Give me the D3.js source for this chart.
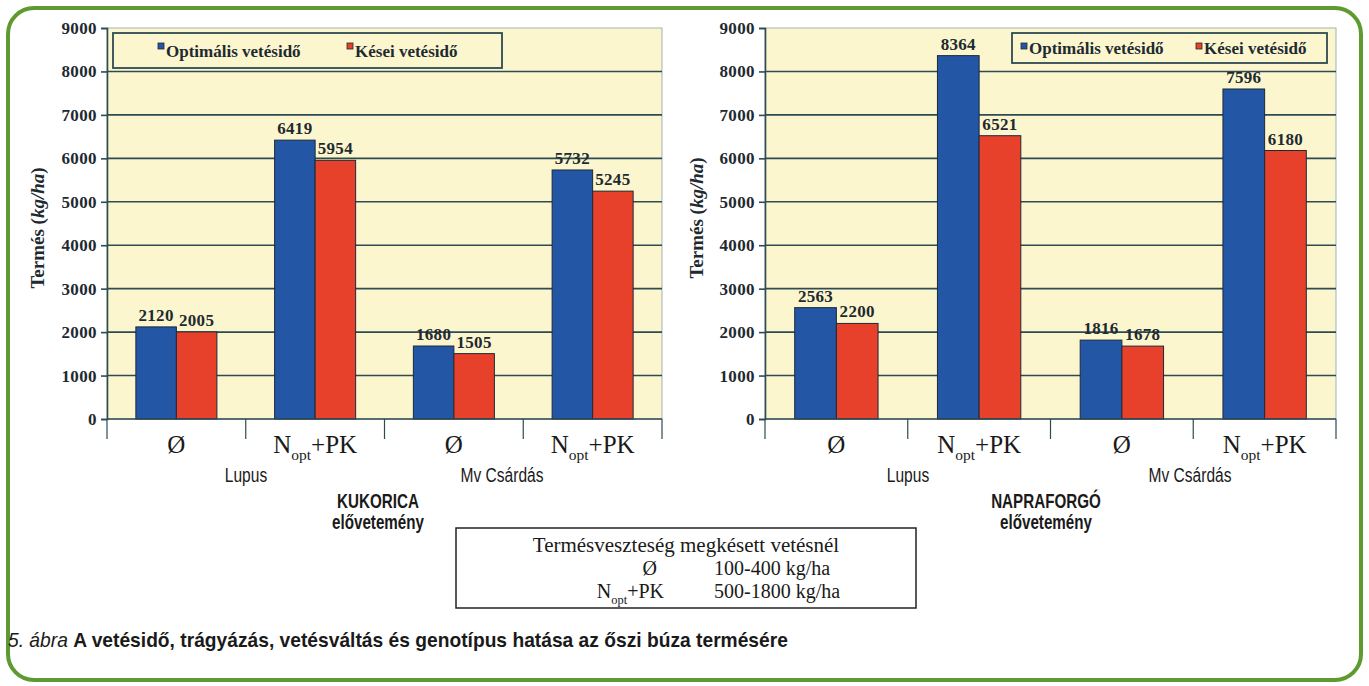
<!DOCTYPE html>
<html><head><meta charset="utf-8">
<script src="https://cdnjs.cloudflare.com/ajax/libs/d3/7.8.5/d3.min.js"></script>
<style>
html,body{margin:0;padding:0;background:#fff;}
svg{display:block;}
</style></head>
<body>
<svg id="c" width="1369" height="686"></svg>
<script>
// ---- data ----
const categories = ["Ø", "Nopt+PK", "Ø", "Nopt+PK"];
const groupLabels = ["Lupus", "Mv Csárdás"];
const seriesNames = ["Optimális vetésidő", "Kései vetésidő"];
const kukoricaOptimal = [2120, 6419, 1680, 5732];
const kukoricaLate = [2005, 5954, 1505, 5245];
const napraforgoOptimal = [2563, 8364, 1816, 7596];
const napraforgoLate = [2200, 6521, 1678, 6180];
const yTicks = [0, 1000, 2000, 3000, 4000, 5000, 6000, 7000, 8000, 9000];
const precropNames = ["KUKORICA", "NAPRAFORGÓ"];
const lossRows = [["Ø", "100-400 kg/ha"], ["Nopt+PK", "500-1800 kg/ha"]];

const svg = d3.select("#c");
const BLUE = "#2456a6", RED = "#e8412b", GRID = "#2e4a52", BG = "#fcf6cf";
const serif = "'Liberation Serif', 'DejaVu Serif', serif";
const sans = "'Liberation Sans', Arimo, sans-serif";

// green frame
svg.append("rect").attr("x", 8).attr("y", 8).attr("width", 1353).attr("height", 672)
  .attr("rx", 26).attr("ry", 26).attr("fill", "none").attr("stroke", "#5e9a2f").attr("stroke-width", 4);

function catLabel(sel, txt, size) {
  if (txt === "Nopt+PK") {
    sel.append("tspan").text("N");
    sel.append("tspan").text("opt").attr("font-size", size * 0.62).attr("dy", size * 0.28);
    sel.append("tspan").text("+PK").attr("dy", -size * 0.28);
  } else sel.text(txt);
}

// condensed text: sans scaled horizontally
function narrowText(parent, x, y, txt, size, bold, sx) {
  return parent.append("text").attr("transform", `translate(${x},${y}) scale(${sx || 0.78},1)`)
    .attr("text-anchor", "middle").attr("font-family", sans).attr("font-size", size)
    .attr("font-weight", bold ? "bold" : "normal").attr("fill", "#1a1a1a").text(txt);
}

function drawChart(cfg) {
  const g = svg.append("g");
  const x = d3.scaleBand().domain(d3.range(categories.length)).range([cfg.x0, cfg.x1]).paddingInner(0).paddingOuter(0);
  const y = d3.scaleLinear().domain([0, 9000]).range([cfg.yb, cfg.yt]);
  const bw = x.bandwidth() * 0.292;

  g.append("rect").attr("x", cfg.x0).attr("y", cfg.yt).attr("width", cfg.x1 - cfg.x0).attr("height", cfg.yb - cfg.yt)
    .attr("fill", BG).attr("stroke", "#9fb3b8").attr("stroke-width", 1);

  // gridlines
  g.selectAll(".grid").data(yTicks.filter(t => t > 0 && t < 9000)).join("line")
    .attr("x1", cfg.x0).attr("x2", cfg.x1).attr("y1", d => y(d)).attr("y2", d => y(d))
    .attr("stroke", GRID).attr("stroke-width", 1.6);

  // y axis
  const yAxis = d3.axisLeft(y).tickValues(yTicks).tickSize(6).tickPadding(4).tickFormat(d3.format("d"));
  const ya = g.append("g").attr("transform", `translate(${cfg.x0},0)`).call(yAxis);
  ya.select(".domain").attr("stroke", GRID).attr("stroke-width", 1.6);
  ya.selectAll(".tick line").attr("stroke", GRID).attr("stroke-width", 1.6);
  ya.selectAll(".tick text").attr("font-family", serif).attr("font-weight", "bold").attr("font-size", 17)
    .attr("fill", "#1e2a30").attr("letter-spacing", 0.4);

  // legend box
  g.append("rect").attr("x", cfg.legX).attr("y", cfg.legY).attr("width", cfg.legW).attr("height", cfg.legH)
    .attr("fill", BG).attr("stroke", "#2e4a52").attr("stroke-width", 1.8);

  // bars
  const series = [cfg.opt, cfg.late];
  const colors = [BLUE, RED];
  series.forEach((vals, si) => {
    const bx = i => x(i) + x.bandwidth() / 2 - bw + si * bw;
    g.selectAll(".bar" + si).data(vals).join("rect")
      .attr("x", (d, i) => bx(i)).attr("y", d => y(d)).attr("width", bw).attr("height", d => y(0) - y(d))
      .attr("fill", colors[si]).attr("stroke", "#1c2a38").attr("stroke-width", 1);
    g.selectAll(".val" + si).data(vals).join("text")
      .attr("x", (d, i) => bx(i) + bw / 2).attr("y", d => y(d) - 6)
      .attr("text-anchor", "middle").attr("font-family", serif).attr("font-weight", "bold")
      .attr("font-size", 17).attr("letter-spacing", 0.3).attr("fill", "#1e2a30").text(d => d);
  });

  // x axis line and dividers
  g.append("line").attr("x1", cfg.x0).attr("x2", cfg.x1).attr("y1", y(0)).attr("y2", y(0))
    .attr("stroke", GRID).attr("stroke-width", 1.6);
  const divs = d3.range(categories.length + 1).map(i => i < categories.length ? x(i) : cfg.x1);
  g.selectAll(".div").data(divs).join("line")
    .attr("x1", d => d).attr("x2", d => d).attr("y1", y(0)).attr("y2", y(0) + 20)
    .attr("stroke", GRID).attr("stroke-width", 1.2);

  // category labels
  categories.forEach((c, i) => {
    const t = g.append("text").attr("x", x(i) + x.bandwidth() / 2).attr("y", y(0) + 34)
      .attr("text-anchor", "middle").attr("font-family", serif).attr("font-size", 25).attr("fill", "#1a1a1a");
    catLabel(t, c, 25);
  });
  // group labels
  groupLabels.forEach((gl, i) => narrowText(g, cfg.groupX[i], y(0) + 63, gl, 21, false, 0.74));
  // precrop
  narrowText(g, cfg.preX, y(0) + 89, cfg.pre, 20, true, 0.76);
  narrowText(g, cfg.preX, y(0) + 110, "elővetemény", 20, true, 0.76);

  // y title
  const yt = g.append("text").attr("transform", `translate(${cfg.titleX},${cfg.titleY}) rotate(-90)`)
    .attr("text-anchor", "middle").attr("font-family", serif).attr("font-weight", "bold").attr("font-size", 19).attr("fill", "#1e2a30");
  yt.append("tspan").text("Termés (");
  yt.append("tspan").text("kg/ha").attr("font-style", "italic");
  yt.append("tspan").text(")");

  // legend items
  seriesNames.forEach((s, i) => {
    const lx = cfg.legItems[i];
    g.append("rect").attr("x", lx).attr("y", cfg.legY + 10).attr("width", 6).attr("height", 6)
      .attr("fill", colors[i]).attr("stroke", "#1c2a38").attr("stroke-width", 0.8);
    g.append("text").attr("x", lx + 8).attr("y", cfg.legY + cfg.legTextDy).attr("font-family", serif).attr("font-weight", "bold")
      .attr("font-size", 17).attr("fill", "#1e2a30").text(s);
  });
}

drawChart({ x0: 107, x1: 662, yt: 28, yb: 419, opt: kukoricaOptimal, late: kukoricaLate,
  legX: 113, legY: 33, legW: 389, legH: 35, legItems: [158, 347], legTextDy: 24,
  groupX: [246, 502], preX: 378, pre: precropNames[0], titleX: 44, titleY: 228 });
drawChart({ x0: 765, x1: 1336, yt: 28, yb: 419, opt: napraforgoOptimal, late: napraforgoLate,
  legX: 1012, legY: 33, legW: 315, legH: 30, legItems: [1021, 1196], legTextDy: 21,
  groupX: [908, 1190], preX: 1046, pre: precropNames[1], titleX: 703, titleY: 218 });

// loss box
const box = svg.append("g");
box.append("rect").attr("x", 456).attr("y", 528).attr("width", 460).attr("height", 80)
  .attr("fill", "#fff").attr("stroke", "#222").attr("stroke-width", 1.5);
box.append("text").attr("x", 686).attr("y", 552).attr("text-anchor", "middle").attr("font-family", serif)
  .attr("font-size", 21).attr("fill", "#1a1a1a").text("Termésveszteség megkésett vetésnél");
lossRows.forEach((r, i) => {
  const ry = 575 + i * 23;
  const t = box.append("text").attr("x", i === 0 ? 657 : 664).attr("y", ry).attr("text-anchor", "end")
    .attr("font-family", serif).attr("font-size", 20).attr("fill", "#1a1a1a");
  catLabel(t, r[0], 20);
  box.append("text").attr("x", 714).attr("y", ry).attr("font-family", serif)
    .attr("font-size", 20).attr("fill", "#1a1a1a").text(r[1]);
});

// figure caption (condensed)
const cap = svg.append("text").attr("font-family", sans).attr("font-size", 20).attr("fill", "#1a1a1a");
cap.append("tspan").text("5. ábra ").attr("font-style", "italic").attr("font-weight", "300");
cap.append("tspan").text("A vetésidő, trágyázás, vetésváltás és genotípus hatása az őszi búza termésére").attr("font-weight", "bold");
const capW = cap.node().getComputedTextLength();
cap.attr("transform", `translate(8,647) scale(${780 / capW},1)`);
</script>
</body></html>
